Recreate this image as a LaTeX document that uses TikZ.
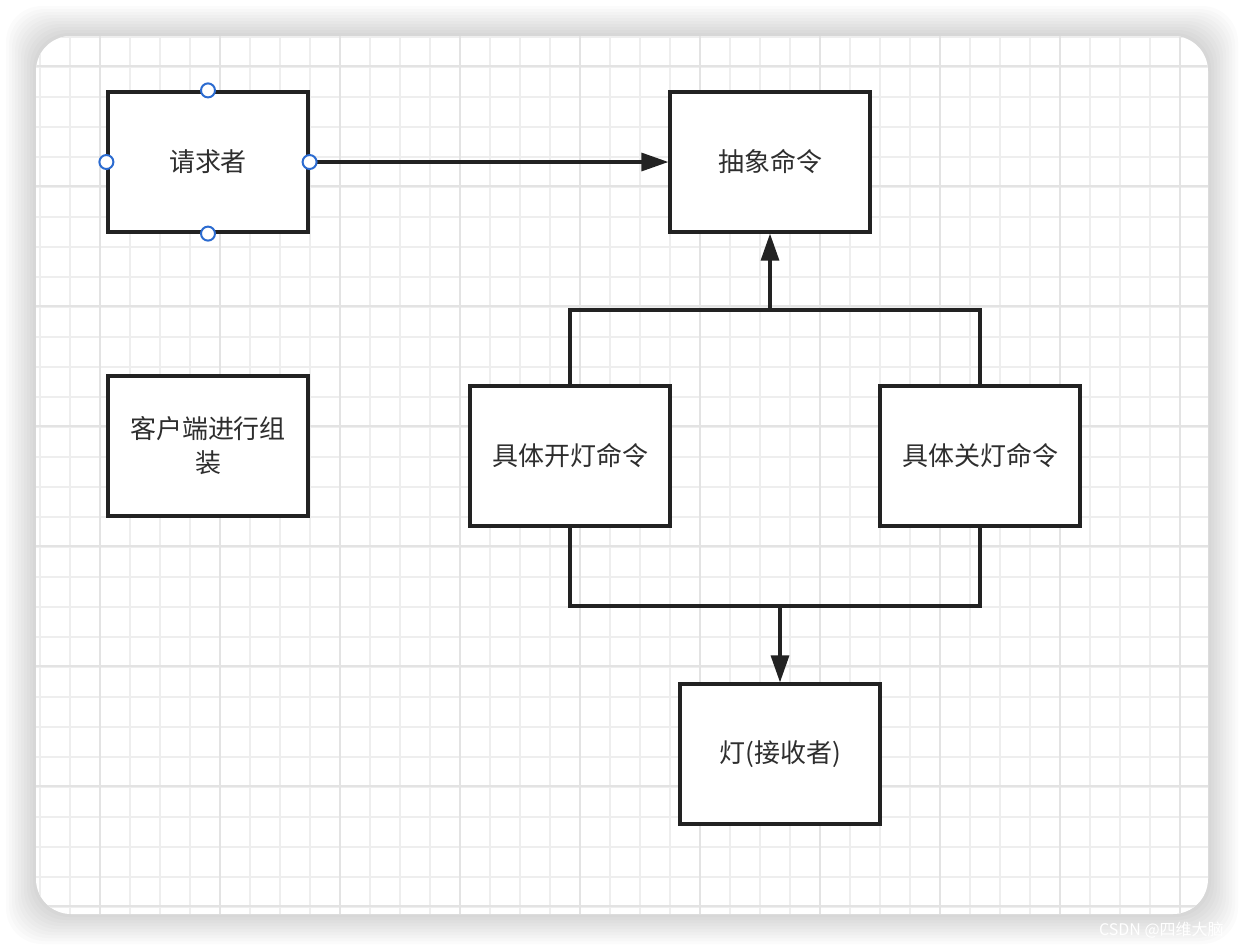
\documentclass[tikz,border=0pt]{standalone}
\usepackage{fontspec}
\setmainfont{Noto Sans CJK SC}
\usetikzlibrary{arrows.meta, positioning}

\definecolor{linecol}{HTML}{222222}
\definecolor{textcol}{HTML}{2E2E2E}
\definecolor{handlecol}{HTML}{2B6BD0}
\definecolor{minorcol}{HTML}{EEEEEE}
\definecolor{majorcol}{HTML}{E3E3E3}

\begin{document}
\begin{tikzpicture}[x=0.5pt, y=-0.5pt,
  block/.style={draw=linecol, line width=1.6pt, fill=white, minimum width=100pt, minimum height=70pt, align=center, text=textcol, font=\fontsize{13}{17}\selectfont},
  link/.style={draw=linecol, line width=1.6pt},
  arr/.style={link, -{Triangle[length=13.5pt, width=9pt]}},
  handle/.style={circle, draw=handlecol, line width=1pt, fill=white, inner sep=0pt, minimum size=7pt}
]
  \useasboundingbox (0,0) rectangle (1244,950);
  \fill[white] (0,0) rectangle (1244,950);

  % Card shadow
  \foreach \s in {1,...,10}
    \fill[black, opacity=0.015, rounded corners=18pt] (36-3*\s,36-3*\s) rectangle (1208+3*\s,914+3*\s);
  \fill[white, rounded corners=17.5pt] (36,36) rectangle (1208,914);

  % Grid paper
  \begin{scope}
    \clip[rounded corners=17.5pt] (36,36) rectangle (1208,914);
    \foreach \gx in {40,70,...,1200}
      \draw[minorcol, line width=0.75pt] (\gx,36) -- (\gx,914);
    \foreach \gy in {37,67,...,910}
      \draw[minorcol, line width=0.75pt] (36,\gy) -- (1208,\gy);
    \foreach \gx in {100,220,...,1200}
      \draw[majorcol, line width=1pt] (\gx,36) -- (\gx,914);
    \foreach \gy in {66,186,...,910}
      \draw[majorcol, line width=1pt] (36,\gy) -- (1208,\gy);
  \end{scope}

  % Blocks
  \node[block] (invoker) at (208,162) {请求者};
  \node[block] (cmd) at (770,162) {抽象命令};
  \node[block] (client) at (208,446) {客户端进行组\\装};
  \node[block] (oncmd) at (570,456) {具体开灯命令};
  \node[block] (offcmd) at (980,456) {具体关灯命令};
  \node[block] (lamp) at (780,754) {灯(接收者)};

  % Junctions
  \coordinate (jtop) at (770,310);
  \coordinate (jbot) at (780,606);

  % Arrows
  \draw[arr] (invoker.east) -- (cmd.west);
  \draw[link] (oncmd.north) |- (jtop) -| (offcmd.north);
  \draw[arr] (jtop) -- (cmd.south);
  \draw[link] (oncmd.south) |- (jbot) -| (offcmd.south);
  \draw[arr] (jbot) -- (lamp.north);

  % Selection handles
  \node[handle] (hn) at (invoker.north) {};
  \node[handle] (hs) at (invoker.south) {};
  \node[handle] (hw) at (invoker.west) {};
  \node[handle] (he) at (invoker.east) {};

  % Watermark
  \node[white, font=\fontsize{8}{10}\selectfont, anchor=west] (mark) at (1092,930) {CSDN @四维大脑};
\end{tikzpicture}
\end{document}
